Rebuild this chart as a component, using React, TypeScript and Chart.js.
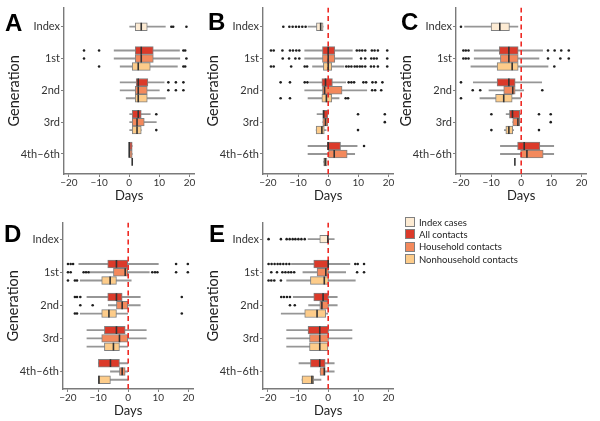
import React, { useEffect, useRef } from "react";
import { Chart, registerables } from "chart.js";
Chart.register(...registerables);

const GENERATIONS = ["Index", "1st", "2nd", "3rd", "4th–6th"];
const SERIES = ["Index cases", "All contacts", "Household contacts", "Nonhousehold contacts"];
const COLORS = ["#FDEBD3", "#DB3A2A", "#F3895C", "#FDCC8A"];
const X_TICKS = [-20, -10, 0, 10, 20];

// five-number summaries [min, q1, median, q3, max]; rows: 1st, 2nd, 3rd, 4th–6th
const A_INDEX = [0, 2, 4, 6, 12];
const A_INDEX_OUT = [14, 14.6, 19];
const A_ALL = [[-5, 2, 4, 8, 16.7], [-3, 2.3, 3, 6.2, 11.6], [0, 1, 3, 4, 7], [0, 0, 0, 1, 1]];
const A_ALL_OUT = [[-15, -10, 18, 18.6], [13, 15.5, 18], [9], []];
const A_HOUSE = [[-5, 2, 4, 8, 16.8], [-3, 2, 3, 6, 10], [0, 1, 2.6, 5, 9], [0, 0, 0, 1, 1]];
const A_HOUSE_OUT = [[-15, 19], [13, 15.5, 18], [], []];
const A_NONHOUSE = [[-3, 1, 3, 7, 16], [-1, 2, 3, 6, 12], [0, 1, 2.6, 4, 4], [1, 1, 1, 1, 1]];
const A_NONHOUSE_OUT = [[-10, 18, 18.6], [], [9], []];

const B_INDEX = [-6.7, -3.9, -2.5, -1.7, -1.7];
const B_INDEX_OUT = [-14.9, -12.9, -11.8, -10.7, -9.7, -8.6, -7.5];
const B_ALL = [[-7.8, -1.9, 0, 2.2, 8], [-6.2, -2.1, -0.9, 1.4, 5.8], [-3.7, -1.8, -1.5, 0, 0], [-6.7, -0.3, 0, 4.1, 9.6]];
const B_ALL_OUT = [
  [-19, -18.1, -15.2, -12.7, -11.7, -10.6, -9.6, 9.5, 10.4, 11.3, 12.3, 14.5, 15.4, 16.5, 19.6],
  [-15.8, -12.7, -7.8, -6.9, 6.8, 7.7, 8.6, 11.7, 12.6, 14.7, 15.8, 18],
  [9.9, 18.8],
  [11.9],
];
const B_HOUSE = [[-7.8, -1.9, 0, 2.2, 8], [-7.8, -1.9, -1.2, 4.6, 12.8], [-1.8, -1.8, -0.9, -0.1, -0.1], [-6.7, 0.1, 2, 6.3, 8.8]];
const B_HOUSE_OUT = [[-15.1, -13, -10.9, -9.6, 10.9, 12.3, 14.3, 15.2, 16.1, 19.6], [14.6, 15.6, 17.6], [18.8], []];
const B_NONHOUSE = [[-5.2, -1.6, 0, 1.2, 5.2], [-6.7, -2.1, -0.6, 1.2, 3.6], [-4, -4, -2.1, -1.3, -0.7], [-1.5, -1.5, -1, -0.4, -0.4]];
const B_NONHOUSE_OUT = [
  [-19, -18.1, -12.3, -7.8, -7, 6, 6.8, 7.7, 8.8, 9.6, 10.5, 11.3, 12.3, 14.2, 15.2, 16.5, 19.6],
  [-15.8, -12.7, 5.8, 6.6],
  [9.9],
  [],
];

const C_INDEX = [-18.8, -10, -7.1, -3.9, -1.1];
const C_INDEX_OUT = [-20];
const C_ALL = [[-15.6, -7.3, -4.1, -1, 7.1], [-15.9, -8, -4.1, -2, 6.8], [-5, -3.9, -2.9, -0.5, 0], [-6.9, -1.2, 1, 6.2, 10.8]];
const C_ALL_OUT = [[-19.2, -18.4, -17.5, 8.9, 11.1, 13.3, 15.8], [-20], [-9.9, 5.9, 9.8], []];
const C_HOUSE = [[-15.6, -6.9, -4.1, -1, 5.9], [-10.7, -5.8, -2.8, -2, 0.8], [-2.8, -2.8, -1.1, -0.5, 0], [-6.9, -0.2, 1.9, 7.3, 10.8]];
const C_HOUSE_OUT = [[-19.2, -18.4, -17.5, 8.9, 13, 15.8], [-16.1, -13.6, 7], [9.8], []];
const C_NONHOUSE = [[-16.7, -8, -3, -1, 8.9], [-13.7, -8.5, -5.8, -3, -0.2], [-5.6, -5.1, -4.1, -2.8, -2.5], [-2.1, -2.1, -2.1, -2.1, -2.1]];
const C_NONHOUSE_OUT = [[11], [-20], [-9.9, 5.9], []];

const D_INDEX = null;
const D_INDEX_OUT: number[] = [];
const D_ALL = [[-16.4, -6.8, -3.9, 0, 10], [-13.7, -6.8, -3.9, -2, 4], [-13.7, -7.9, -3.9, -1, 6], [-9.9, -9.9, -5.9, -2.9, 0]];
const D_ALL_OUT = [[-20, -19.1, -18.3, 15.9, 19.8], [-17.7, -17, -15.9, 17.8], [], []];
const D_HOUSE = [[-12.9, -4.9, -1, 0, 7], [-6.6, -3.9, -2, 0, 4], [-13.7, -8.8, -2.9, 0, 6], [-5.9, -2.9, -2, -1, 0]];
const D_HOUSE_OUT = [[-20, -19.1, -14.8, -14, -13.2, 8, 8.9, 9.7, 15.9, 19.8], [-15.9, -11.8], [], []];
const D_NONHOUSE = [[-15.9, -8.8, -6, -3.9, 1], [-15.9, -8.8, -6.4, -3.9, 0], [-13.7, -7.9, -4.9, -2.9, 0], [-9.9, -9.9, -9.7, -5.9, 0]];
const D_NONHOUSE_OUT = [[-20, -17.7, -17], [-17.7, -17, 17.8], [], []];

const E_INDEX = [-6.7, -2.8, -0.1, 0, 2];
const E_INDEX_OUT = [-19.8, -15.7, -13.8, -12.8, -11.8, -10.9, -9.9, -8.9, -7.8];
const E_ALL = [[-12.2, -4.8, 0, 0.1, 7.2], [-11.6, -4.8, -1.7, 0.1, 3], [-13.8, -6.7, -2.8, 0.1, 7.9], [-9.7, -5.9, -2.8, -1, 2]];
const E_ALL_OUT = [[-19.8, -18.8, -17.8, -16.8, -15.9, -14.9, -13.9, -12.9, 9, 9.8, 11.9], [-15.6, -14.7, -13.7, -12.7], [], []];
const E_HOUSE = [[-8.4, -3.7, -0.8, 0.1, 5.8], [-6.5, -2.8, -2.1, 0.1, 3], [-13.8, -6.2, -2.8, 0.1, 7.9], [-2.7, -2.7, -1.3, -1, 2]];
const E_HOUSE_OUT = [[-18.9, -17, -15.2, -14.2, -13.2, -12.3, -11.3, 9.6, 11.9], [-12.7, -11.1], [], []];
const E_NONHOUSE = [[-13.8, -5.9, -1.3, 0.1, 9], [-15.6, -7.8, -3.7, -0.8, 0], [-13.8, -6.2, -2.8, -0.1, -0.1], [-8.7, -8.7, -5.4, -4.8, -2.4]];
const E_NONHOUSE_OUT = [[-19.8, -18.9, -17.9, -15.7], [], [], []];

const X_MIN = -21.65;
const X_MAX = 21.65;
const OFFSET = 0.25;
const FONT = "Lato, 'Noto Sans', sans-serif";

type Stat = number[] | null;

interface PanelProps {
  left: number;
  top: number;
  letter: string;
  letterLeft: number;
  letterTop: number;
  indexStat: Stat;
  indexOut: number[];
  series: Stat[][];
  seriesOut: number[][][];
  yMin: number;
  yMax: number;
  zeroLine: boolean;
}

const CW = 200;
const CH = 206;

function BoxPanel(p: PanelProps) {
  const ref = useRef<HTMLCanvasElement>(null);
  useEffect(() => {
    if (!ref.current) return;
    const whisk: any[] = [];
    const boxes: any[][] = [[], [], [], []];
    const meds: any[] = [];
    const outs: any[] = [];
    const add = (stat: Stat, y: number, s: number, out: number[]) => {
      if (stat) {
        const [mn, q1, md, q3, mx] = stat;
        if (mx > mn) whisk.push({ x: [mn, mx], y });
        if (q3 > q1) boxes[s].push({ x: [q1, q3], y });
        meds.push({ x: md, y });
      }
      out.forEach((v) => outs.push({ x: v, y }));
    };
    add(p.indexStat, 0, 0, p.indexOut);
    for (let s = 0; s < 3; s++) {
      for (let g = 0; g < 4; g++) {
        add(p.series[s][g], g + 1 + (s - 1) * OFFSET, s + 1, p.seriesOut[s][g]);
      }
    }
    const barCommon = {
      type: "bar" as const,
      grouped: false,
      barPercentage: 1,
      categoryPercentage: 1,
      borderSkipped: false as const,
    };
    const datasets: any[] = [
      {
        ...barCommon,
        label: "whiskers",
        data: whisk,
        barThickness: 1.2,
        maxBarThickness: 1.2,
        backgroundColor: "#969696",
        borderWidth: 0,
        order: 6,
      },
    ];
    for (let s = 0; s < 4; s++) {
      datasets.push({
        ...barCommon,
        label: SERIES[s],
        data: boxes[s],
        barThickness: 7.8,
        maxBarThickness: 7.8,
        backgroundColor: COLORS[s],
        borderColor: "#808080",
        borderWidth: 1,
        order: 5,
      });
    }
    if (p.zeroLine) {
      datasets.push({
        type: "line",
        label: "zero",
        data: [
          { x: 0, y: p.yMin },
          { x: 0, y: p.yMax },
        ],
        borderColor: "#EE2A24",
        borderWidth: 1.6,
        borderDash: [5, 3.5],
        pointRadius: 0,
        fill: false,
        order: 3,
      });
    }
    datasets.push({
      type: "scatter",
      label: "median",
      data: meds,
      pointStyle: "line",
      rotation: 90,
      radius: 3.9,
      pointRadius: 3.9,
      borderColor: "#333333",
      borderWidth: 1.6,
      order: 2,
    });
    datasets.push({
      type: "scatter",
      label: "outliers",
      data: outs,
      pointStyle: "circle",
      pointRadius: 1.3,
      backgroundColor: "#1e1e1e",
      borderWidth: 0,
      order: 1,
    });

    const chart = new Chart(ref.current, {
      type: "bar",
      data: { datasets },
      options: {
        indexAxis: "y",
        animation: false,
        responsive: false,
        devicePixelRatio: 1,
        layout: { padding: { top: 3, right: 3, left: 0, bottom: 0 } },
        plugins: { legend: { display: false }, tooltip: { enabled: false } },
        events: [],
        scales: {
          x: {
            type: "linear",
            min: X_MIN,
            max: X_MAX,
            offset: false,
            afterFit: (s: any) => {
              s.height = 32;
            },
            afterBuildTicks: (s: any) => {
              s.ticks = X_TICKS.map((v) => ({ value: v }));
            },
            grid: { display: true, drawOnChartArea: false, drawTicks: true, tickLength: 3, color: "#808080" },
            border: { display: true, color: "#7a7a7a", width: 1.4 },
            ticks: {
              color: "#333",
              padding: 0,
              font: { family: FONT, size: 10 },
              maxRotation: 0,
              autoSkip: false,
              callback: (v: any) => (Number(v) < 0 ? "−" + Math.abs(Number(v)) : String(v)),
            },
            title: {
              display: true,
              text: "Days",
              color: "#222",
              font: { family: FONT, size: 13 },
              padding: { top: 0, bottom: 2 },
            },
          },
          y: {
            type: "linear",
            reverse: true,
            min: p.yMin,
            max: p.yMax,
            offset: false,
            afterFit: (s: any) => {
              s.width = 64;
            },
            afterBuildTicks: (s: any) => {
              s.ticks = [0, 1, 2, 3, 4].map((v) => ({ value: v }));
            },
            grid: { display: true, offset: false, drawOnChartArea: false, drawTicks: true, tickLength: 3, color: "#808080" },
            border: { display: true, color: "#7a7a7a", width: 1.4 },
            ticks: {
              color: "#333",
              padding: 1,
              autoSkip: false,
              font: { family: FONT, size: 11 },
              callback: (v: any) => GENERATIONS[Math.round(Number(v))],
            },
            title: {
              display: true,
              text: "Generation",
              color: "#222",
              font: { family: FONT, size: 14.5 },
              padding: { top: 6, bottom: 0 },
            },
          },
        },
      } as any,
    });
    return () => chart.destroy();
  }, []);

  return (
    <>
      <div style={{ position: "absolute", left: p.left, top: p.top, width: CW, height: CH }}>
        <canvas ref={ref} width={CW} height={CH} style={{ width: CW, height: CH, display: "block" }} />
      </div>
      <div
        style={{
          position: "absolute",
          left: p.letterLeft,
          top: p.letterTop,
          fontFamily: "'Liberation Sans', Arial, sans-serif",
          fontWeight: 700,
          fontSize: 24,
          lineHeight: "24px",
          color: "#000",
        }}
      >
        {p.letter}
      </div>
    </>
  );
}

function Legend() {
  return (
    <div style={{ position: "absolute", left: 405, top: 216 }}>
      {SERIES.map((s, i) => (
        <div key={s} style={{ display: "flex", alignItems: "center", height: 12.3 }}>
          <div
            style={{
              width: 8,
              height: 8,
              background: COLORS[i],
              border: "1px solid #808080",
              marginRight: 4,
            }}
          />
          <span style={{ fontFamily: FONT, fontSize: 9.5, color: "#222", whiteSpace: "nowrap" }}>{s}</span>
        </div>
      ))}
    </div>
  );
}

export default function App() {
  const TOP_MIN = -0.6;
  const TOP_MAX = 4.63;
  const BOT_MIN = -0.5;
  const BOT_MAX = 4.53;
  return (
    <div
      style={{
        position: "absolute",
        left: 0,
        top: 0,
        width: 600,
        height: 421,
        overflow: "hidden",
        background: "#fff",
      }}
    >
      <BoxPanel
        left={0} top={0} letter="A" letterLeft={5} letterTop={11}
        indexStat={A_INDEX} indexOut={A_INDEX_OUT}
        series={[A_ALL, A_HOUSE, A_NONHOUSE]} seriesOut={[A_ALL_OUT, A_HOUSE_OUT, A_NONHOUSE_OUT]}
        yMin={TOP_MIN} yMax={TOP_MAX} zeroLine={false}
      />
      <BoxPanel
        left={199} top={0} letter="B" letterLeft={208} letterTop={10}
        indexStat={B_INDEX} indexOut={B_INDEX_OUT}
        series={[B_ALL, B_HOUSE, B_NONHOUSE]} seriesOut={[B_ALL_OUT, B_HOUSE_OUT, B_NONHOUSE_OUT]}
        yMin={TOP_MIN} yMax={TOP_MAX} zeroLine={true}
      />
      <BoxPanel
        left={392} top={0} letter="C" letterLeft={401} letterTop={10}
        indexStat={C_INDEX} indexOut={C_INDEX_OUT}
        series={[C_ALL, C_HOUSE, C_NONHOUSE]} seriesOut={[C_ALL_OUT, C_HOUSE_OUT, C_NONHOUSE_OUT]}
        yMin={TOP_MIN} yMax={TOP_MAX} zeroLine={true}
      />
      <BoxPanel
        left={-1} top={215} letter="D" letterLeft={4} letterTop={222}
        indexStat={D_INDEX} indexOut={D_INDEX_OUT}
        series={[D_ALL, D_HOUSE, D_NONHOUSE]} seriesOut={[D_ALL_OUT, D_HOUSE_OUT, D_NONHOUSE_OUT]}
        yMin={BOT_MIN} yMax={BOT_MAX} zeroLine={true}
      />
      <BoxPanel
        left={199} top={215} letter="E" letterLeft={209} letterTop={222}
        indexStat={E_INDEX} indexOut={E_INDEX_OUT}
        series={[E_ALL, E_HOUSE, E_NONHOUSE]} seriesOut={[E_ALL_OUT, E_HOUSE_OUT, E_NONHOUSE_OUT]}
        yMin={BOT_MIN} yMax={BOT_MAX} zeroLine={true}
      />
      <Legend />
    </div>
  );
}
